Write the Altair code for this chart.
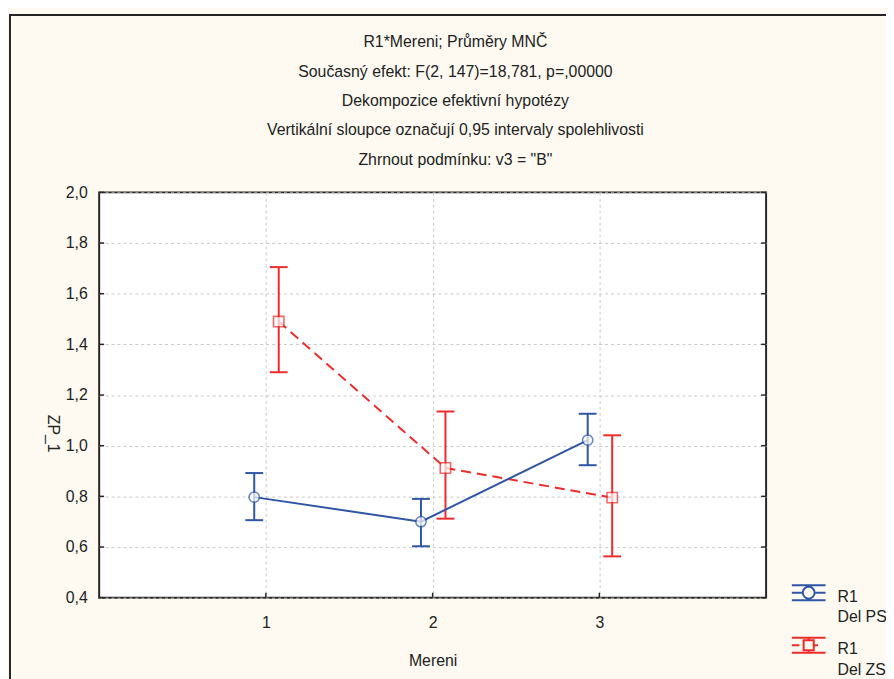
import altair as alt
import pandas as pd

# ---- data ----
mereni = [1, 2, 3]
series = ["Del PS", "Del ZS"]
ps_mean = [0.797, 0.700, 1.022]
ps_lo = [0.706, 0.603, 0.923]
ps_hi = [0.892, 0.790, 1.126]
zs_mean = [1.490, 0.912, 0.795]
zs_lo = [1.290, 0.712, 0.563]
zs_hi = [1.705, 1.135, 1.041]
x_ticks = [1, 2, 3]
y_ticks = [0.4, 0.6, 0.8, 1.0, 1.2, 1.4, 1.6, 1.8, 2.0]
title_lines = [
    "R1*Mereni; Průměry MNČ",
    "Současný efekt: F(2, 147)=18,781, p=,00000",
    "Dekompozice efektivní hypotézy",
    "Vertikální sloupce označují 0,95 intervaly spolehlivosti",
    "Zhrnout podmínku: v3 = \"B\"",
]
legend_prefix = "R1"
x_title = "Mereni"
y_title = "ZP_1"

# ---- styles ----
W, H = 673, 409
FONT = "Liberation Sans"
TXT = "#222222"
colors = ["#2f55a6", "#ee2b2b"]
dodge = {"Del PS": -0.07, "Del ZS": 0.077}
# legend icons (error bar + marker), raised slightly above the first label line
path_ps = ("M-1,-0.675H1M-1,0.205H1M-1,-0.235H-0.35M0.35,-0.235H1"
           "M0,-0.675V-0.585M0,0.115V0.205"
           "M0.35,-0.235A0.35,0.35,0,1,1,-0.35,-0.235A0.35,0.35,0,1,1,0.35,-0.235Z")
path_zs = ("M-1,-0.675H1M-1,0.205H1M-1,-0.235H-0.55M0.3,-0.235H0.55"
           "M0,-0.675V-0.535M0,0.065V0.205"
           "M-0.3,-0.535H0.3V0.065H-0.3Z")

rows = []
for s, means, los, his in [("Del ZS", zs_mean, zs_lo, zs_hi),
                           ("Del PS", ps_mean, ps_lo, ps_hi)]:
    for m, mu, lo, hi in zip(mereni, means, los, his):
        rows.append(dict(serie=s, mereni=m, mean=mu, lo=lo, hi=hi))
df = pd.DataFrame(rows)

xscale = alt.Scale(domain=[0, 4], nice=False, zero=False)
yscale = alt.Scale(domain=[0.4, 2.0], nice=False, zero=False)
xaxis = alt.Axis(values=x_ticks, title=x_title, format="d", ticks=False,
                 labelPadding=17, titleY=63, titleBaseline="middle",
                 domain=False, grid=True)
yaxis = alt.Axis(values=y_ticks, title=y_title, ticks=False, labelPadding=12,
                 labelExpr="replace(format(datum.value, '.1f'), '.', ',')",
                 titleAngle=90, titleX=-47, titleY=243, titleAlign="center",
                 titleBaseline="middle", domain=False, grid=True)

leg = alt.Legend(title=None, orient="none", legendX=698, legendY=390,
                 symbolSize=1156, symbolStrokeWidth=2, symbolOpacity=1,
                 symbolFillColor="white", labelFont=FONT, labelFontSize=16,
                 labelColor=TXT, labelOffset=11, rowPadding=6, padding=0,
                 labelBaseline="middle",
                 labelExpr=f"['{legend_prefix}', datum.label]")

stroke = alt.Stroke("serie:N", scale=alt.Scale(domain=series, range=colors),
                    legend=leg)


def X(field="xpos"):
    return alt.X(f"{field}:Q", scale=xscale, axis=xaxis)


def Y(field):
    return alt.Y(f"{field}:Q", scale=yscale, axis=yaxis)


base = alt.Chart(df).transform_calculate(
    xpos=f"datum.mereni + (datum.serie == 'Del PS' ? {dodge['Del PS']} : {dodge['Del ZS']})"
)

frame = alt.Chart(pd.DataFrame({"a": [0]})).mark_rect(
    fill="transparent", stroke="#262626", strokeWidth=2
).encode(x=alt.value(-90), x2=alt.value(W + 160), y=alt.value(-179),
         y2=alt.value(H + 120))

bars = base.mark_rule(strokeWidth=2).encode(x=X(), y=Y("lo"), y2="hi:Q", stroke=stroke)
cap_lo = base.mark_rule(strokeWidth=2, xOffset=-9, x2Offset=9).encode(
    x=X(), x2="xpos:Q", y=Y("lo"), stroke=stroke)
cap_hi = base.mark_rule(strokeWidth=2, xOffset=-9, x2Offset=9).encode(
    x=X(), x2="xpos:Q", y=Y("hi"), stroke=stroke)
line_zs = base.transform_filter("datum.serie == 'Del ZS'").mark_line(
    strokeWidth=2, strokeDash=[10, 6]).encode(x=X(), y=Y("mean"), stroke=stroke)
line_ps = base.transform_filter("datum.serie == 'Del PS'").mark_line(
    strokeWidth=2).encode(x=X(), y=Y("mean"), stroke=stroke)
pts_ps = base.transform_filter("datum.serie == 'Del PS'").mark_point(
    shape="circle", size=110, filled=True, fill="white", strokeWidth=1.6).encode(
    x=X(), y=Y("mean"), stroke=alt.value(colors[0]))
pts_zs = base.transform_filter("datum.serie == 'Del ZS'").mark_point(
    shape="square", size=110, filled=True, fill="white", strokeWidth=1.6).encode(
    x=X(), y=Y("mean"), stroke=alt.value(colors[1]))
dummy = base.mark_point(opacity=0, filled=False, strokeWidth=2).encode(
    x=X(), y=Y("mean"), stroke=stroke,
    shape=alt.Shape("serie:N", scale=alt.Scale(domain=series, range=[path_ps, path_zs]),
                    legend=leg))

tick_df = pd.DataFrame({"v": y_ticks})
xtick_df = pd.DataFrame({"v": x_ticks})
lticks = alt.Chart(tick_df).mark_rule(color="#262626", strokeWidth=1.5).encode(
    y=Y("v"), x=alt.value(0), x2=alt.value(5))
rticks = alt.Chart(tick_df).mark_rule(color="#262626", strokeWidth=1.5).encode(
    y=Y("v"), x=alt.value(W - 5), x2=alt.value(W))
bticks = alt.Chart(xtick_df).mark_rule(color="#262626", strokeWidth=1.5).encode(
    x=X("v"), y=alt.value(H - 5), y2=alt.value(H))

chart = alt.layer(
    frame, bars, cap_lo, cap_hi, line_zs, line_ps, pts_zs, pts_ps, dummy,
    lticks, rticks, bticks
).properties(
    width=W, height=H,
    autosize="none",
    padding={"left": 92, "top": 183, "right": 121, "bottom": 79},
    background="#fefaf1",
    title=alt.TitleParams(text=title_lines, font=FONT, fontSize=16, fontWeight="normal",
                          color=TXT, lineHeight=29.6, anchor="middle", dx=23, offset=0,
                          dy=155),
).configure(
    style={"guide-label": {"lineHeight": 21}}
).configure_view(
    fill="white", stroke="#262626", strokeWidth=2
).configure_axis(
    labelFont=FONT, labelFontSize=16, labelColor=TXT,
    titleFont=FONT, titleFontSize=16, titleColor=TXT, titleFontWeight="normal",
    gridColor="#c8c8c8", gridDash=[3, 3], gridWidth=1,
)

chart.save("out.html", embed_options={"renderer": "svg", "actions": False})
